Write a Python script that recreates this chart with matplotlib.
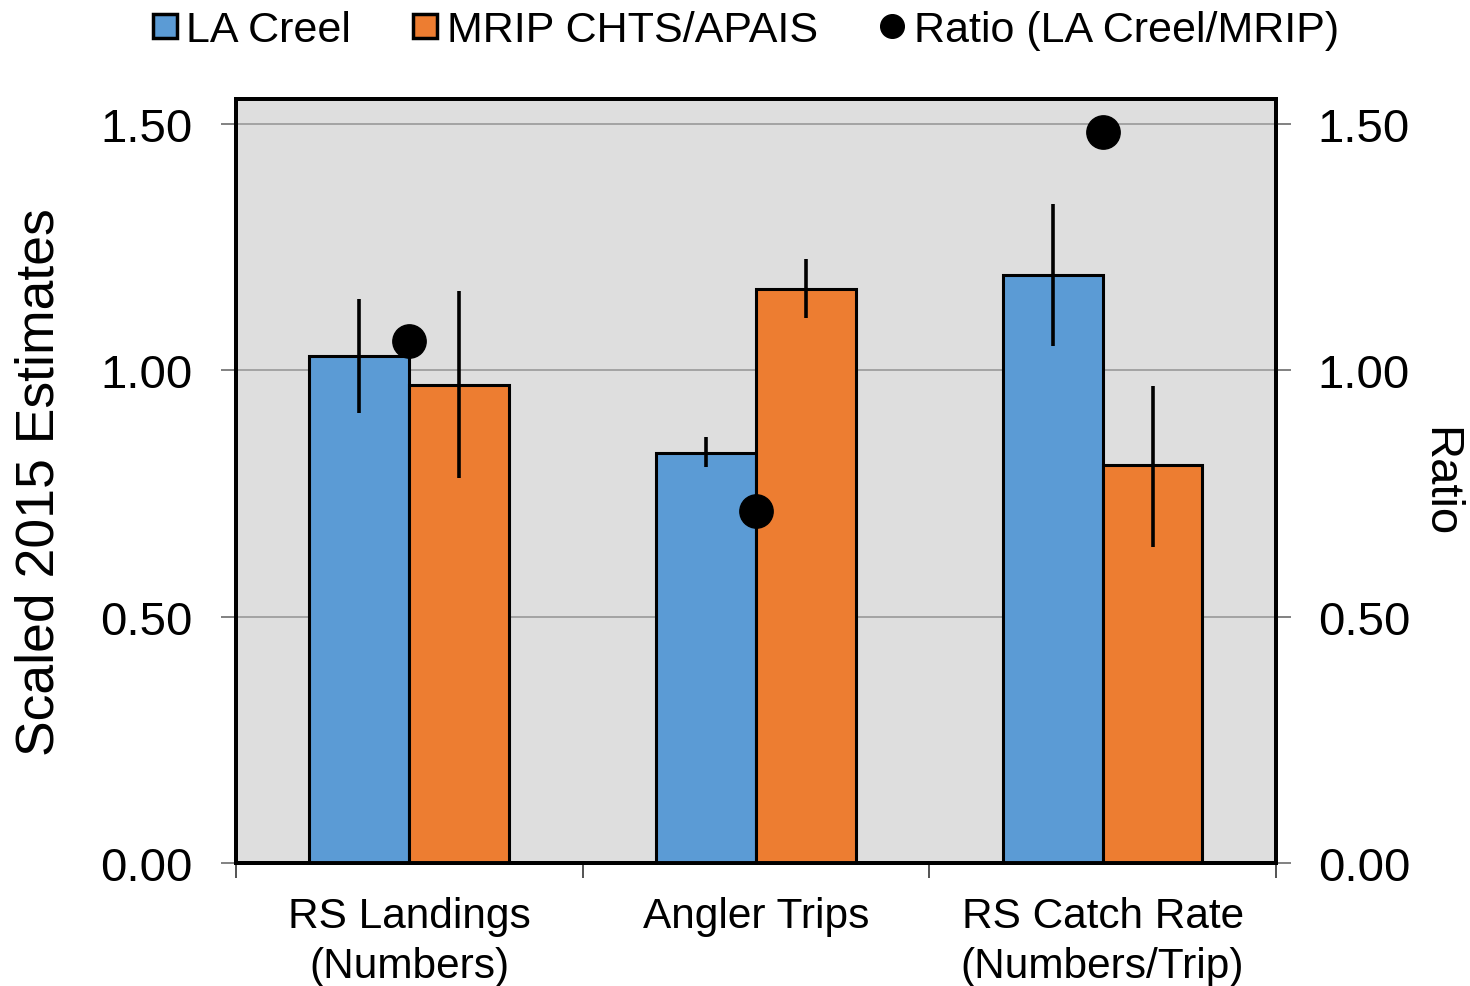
import numpy as np
import matplotlib.pyplot as plt
from matplotlib.lines import Line2D

plt.rcParams['font.family'] = ['Liberation Sans', 'DejaVu Sans']

categories = ['RS Landings\n(Numbers)', 'Angler Trips', 'RS Catch Rate\n(Numbers/Trip)']
la_creel = [1.029, 0.832, 1.193]
la_creel_lo = [0.913, 0.804, 1.049]
la_creel_hi = [1.145, 0.865, 1.338]
mrip = [0.970, 1.165, 0.808]
mrip_lo = [0.781, 1.106, 0.641]
mrip_hi = [1.161, 1.226, 0.968]
ratio = [1.059, 0.714, 1.484]
yticks = [0.0, 0.5, 1.0, 1.5]

blue = '#5B9BD5'
orange = '#ED7D31'

fig = plt.figure(figsize=(14.7, 9.87), dpi=100)
ax = fig.add_axes([0.1605, 0.1246, 0.7075, 0.7741])
ax.set_facecolor('#DEDEDE')

x = np.arange(len(categories))
w = 0.288

la = np.array(la_creel)
mr = np.array(mrip)
ax.bar(x - w / 2, la, w, color=blue, edgecolor='black', linewidth=2.2, zorder=3)
ax.bar(x + w / 2, mr, w, color=orange, edgecolor='black', linewidth=2.2, zorder=3)

la_err = [la - np.array(la_creel_lo), np.array(la_creel_hi) - la]
mr_err = [mr - np.array(mrip_lo), np.array(mrip_hi) - mr]
ax.errorbar(x - w / 2, la, yerr=la_err, fmt='none', ecolor='black', elinewidth=2.6, capsize=0, zorder=4)
ax.errorbar(x + w / 2, mr, yerr=mr_err, fmt='none', ecolor='black', elinewidth=2.6, capsize=0, zorder=4)

ax.set_xlim(-0.5, 2.5)
ax.set_ylim(0, 1.551)
ax.set_yticks(yticks)
ax.set_yticklabels([f'{v:.2f}' for v in yticks], fontsize=34)
ax.yaxis.grid(True, color='#999999', linewidth=1.2, zorder=0)
ax.set_axisbelow(True)
ax.tick_params(axis='y', length=11, width=1.3, color='#777777', pad=20)

ax.set_xticks(x)
ax.set_xticklabels(categories, fontsize=30.5, linespacing=1.3)
ax.set_xticks([-0.5, 0.5, 1.5, 2.5], minor=True)
ax.tick_params(axis='x', which='major', length=0, pad=24)
ax.tick_params(axis='x', which='minor', length=11, width=1.3, color='#444444')

ax.set_ylabel('Scaled 2015 Estimates', fontsize=38.5, labelpad=26)

for s in ax.spines.values():
    s.set_linewidth(2.8)
    s.set_color('black')

# ratio on the secondary axis
ax2 = ax.twinx()
ax2.set_ylim(0, 1.551)
ax2.set_yticks(yticks)
ax2.set_yticklabels([f'{v:.2f}' for v in yticks], fontsize=34)
ax2.tick_params(axis='y', length=11, width=1.3, color='#777777', pad=19)
ax2.plot(x, ratio, 'o', color='black', markersize=24, zorder=5, linestyle='none')
ax2.set_ylabel('Ratio', fontsize=34, rotation=270, ha='center', va='center')
ax2.yaxis.set_label_coords(1.157, 0.5)
for s in ax2.spines.values():
    s.set_linewidth(2.8)

handles = [
    Line2D([], [], marker='s', linestyle='none', markersize=17, markerfacecolor=blue,
           markeredgecolor='black', markeredgewidth=2.5),
    Line2D([], [], marker='s', linestyle='none', markersize=17, markerfacecolor=orange,
           markeredgecolor='black', markeredgewidth=2.5),
    Line2D([], [], marker='o', linestyle='none', markersize=17, markerfacecolor='black',
           markeredgecolor='black'),
]
fig.legend(handles, ['LA Creel', 'MRIP CHTS/APAIS', 'Ratio (LA Creel/MRIP)'],
           loc='center', bbox_to_anchor=(0.507, 0.969), ncol=3, frameon=False,
           fontsize=31, handlelength=0.6, handletextpad=0.2, columnspacing=1.42)

fig.savefig('out.png', dpi=100)
